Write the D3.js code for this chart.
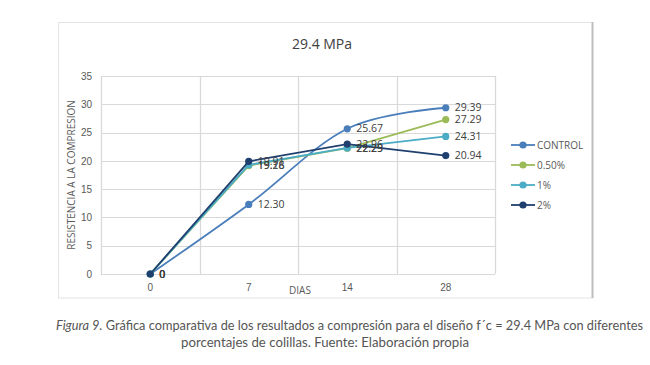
<!DOCTYPE html>
<html>
<head>
<meta charset="utf-8">
<script src="https://d3js.org/d3.v7.min.js"></script>
<style>
  body { margin: 0; background: #fff; }
  svg { display: block; font-family: "Open Sans", "Noto Sans", sans-serif; }
</style>
</head>
<body>
<div id="chart"></div>
<script>
// Chart data
const dias = ["0", "7", "14", "28"];
const yTicks = [0, 5, 10, 15, 20, 25, 30, 35];
const seriesNames = ["CONTROL", "0.50%", "1%", "2%"];
const control = [0, 12.30, 25.67, 29.39];
const p050 = [0, 19.16, 22.25, 27.29];
const p1 = [0, 19.28, 22.29, 24.31];
const p2 = [0, 19.91, 22.96, 20.94];

const styles = {
  colors: ["#4a7ebb", "#9bbb59", "#4bacc6", "#1f3f6e"],
  grid: "#d9d9d9",
  tick: "#595959",
  label: "#404040"
};

const width = 650, height = 365;
const margin = { top: 76, right: 155, bottom: 91, left: 101 };

const svg = d3.select("#chart").append("svg")
  .attr("width", width)
  .attr("height", height);

// Chart frame
svg.append("rect")
  .attr("x", 58.5).attr("y", 22.5)
  .attr("width", 534).attr("height", 275.5)
  .attr("fill", "#fff")
  .attr("stroke", "#e3e3e3");
svg.append("line")
  .attr("x1", 592.5).attr("x2", 592.5)
  .attr("y1", 22).attr("y2", 298)
  .attr("stroke", "#bdbdbd").attr("stroke-width", 2);

const x = d3.scaleBand()
  .domain(dias)
  .range([margin.left, width - margin.right]);

const y = d3.scaleLinear()
  .domain([0, 35])
  .range([height - margin.bottom, margin.top]);

// Horizontal gridlines
svg.append("g")
  .selectAll("line")
  .data(yTicks)
  .enter().append("line")
  .attr("x1", margin.left).attr("x2", width - margin.right)
  .attr("y1", d => Math.round(y(d)) + 0.5)
  .attr("y2", d => Math.round(y(d)) + 0.5)
  .attr("stroke", styles.grid);

// Vertical gridlines between categories
const bounds = dias.map(d => x(d)).concat([x.range()[1]]);
svg.append("g")
  .selectAll("line")
  .data(bounds)
  .enter().append("line")
  .attr("x1", d => Math.round(d) + 0.5)
  .attr("x2", d => Math.round(d) + 0.5)
  .attr("y1", y(35)).attr("y2", y(0))
  .attr("stroke", styles.grid)
  .attr("stroke-width", 1.3);

// Axes
const yAxis = svg.append("g")
  .attr("transform", `translate(${margin.left},0)`)
  .call(d3.axisLeft(y).tickValues(yTicks).tickSize(0).tickPadding(9));
yAxis.select(".domain").attr("stroke", styles.grid);
yAxis.selectAll("text")
  .attr("fill", styles.tick)
  .style("font-size", "10px");

const xAxis = svg.append("g")
  .attr("transform", `translate(0,${y(0)})`)
  .call(d3.axisBottom(x).tickSize(0).tickPadding(10));
xAxis.select(".domain").remove();
xAxis.selectAll("text")
  .attr("fill", styles.tick)
  .style("font-size", "10px");

// Titles
svg.append("text")
  .attr("x", 322).attr("y", 49)
  .attr("text-anchor", "middle")
  .attr("fill", "#404040")
  .style("font-size", "14px")
  .text("29.4 MPa");

svg.append("text")
  .attr("x", 300).attr("y", 294)
  .attr("text-anchor", "middle")
  .attr("fill", styles.tick)
  .style("font-size", "10px")
  .text("DIAS");

svg.append("text")
  .attr("transform", "translate(75,175) rotate(-90)")
  .attr("text-anchor", "middle")
  .attr("fill", styles.tick)
  .style("font-size", "10px")
  .text("RESISTENCIA A LA COMPRESION");

// Series
const series = [control, p050, p1, p2].map((values, i) => ({
  name: seriesNames[i],
  color: styles.colors[i],
  smooth: i === 0,
  points: values.map((v, j) => ({ dia: dias[j], value: v }))
}));

const cx = d => x(d.dia) + x.bandwidth() / 2;

series.forEach(s => {
  const line = d3.line()
    .x(cx)
    .y(d => y(d.value))
    .curve(s.smooth ? d3.curveCardinal.tension(0) : d3.curveLinear);

  svg.append("path")
    .datum(s.points)
    .attr("fill", "none")
    .attr("stroke", s.color)
    .attr("stroke-width", 1.8)
    .attr("d", line);

  svg.append("g")
    .selectAll("circle")
    .data(s.points)
    .enter().append("circle")
    .attr("cx", cx)
    .attr("cy", d => y(d.value))
    .attr("r", 3.6)
    .attr("fill", s.color);
});

// Data labels
series.forEach(s => {
  svg.append("g")
    .selectAll("text")
    .data(s.points)
    .enter().append("text")
    .attr("x", d => cx(d) + 9)
    .attr("y", d => y(d.value))
    .attr("dy", "0.35em")
    .attr("fill", styles.label)
    .style("font-size", "10.5px")
    .text(d => d.value === 0 ? "0" : d.value.toFixed(2));
});

// Legend
const legend = svg.append("g")
  .selectAll("g")
  .data(series)
  .enter().append("g")
  .attr("transform", (d, i) => `translate(511,${145 + i * 20})`);

legend.append("line")
  .attr("x1", 0).attr("x2", 24)
  .attr("stroke", d => d.color)
  .attr("stroke-width", 1.8);
legend.append("circle")
  .attr("cx", 12).attr("r", 3.6)
  .attr("fill", d => d.color);
legend.append("text")
  .attr("x", 26).attr("dy", "0.35em")
  .attr("fill", styles.tick)
  .style("font-size", "10px")
  .text(d => d.name);

// Caption
const caption = svg.append("g")
  .attr("fill", "#555")
  .style("font-size", "13px")
  .style("font-family", "Lato, 'Open Sans', sans-serif");

const line1 = caption.append("text")
  .attr("x", 56).attr("y", 330)
  .attr("textLength", 587)
  .attr("lengthAdjust", "spacingAndGlyphs");
line1.append("tspan").style("font-style", "italic").text("Figura 9.");
line1.append("tspan").text(" Gráfica comparativa de los resultados a compresión para el diseño f´c = 29.4 MPa con diferentes");

caption.append("text")
  .attr("x", 181).attr("y", 347)
  .attr("textLength", 288)
  .attr("lengthAdjust", "spacingAndGlyphs")
  .text("porcentajes de colillas. Fuente: Elaboración propia");
</script>
</body>
</html>
